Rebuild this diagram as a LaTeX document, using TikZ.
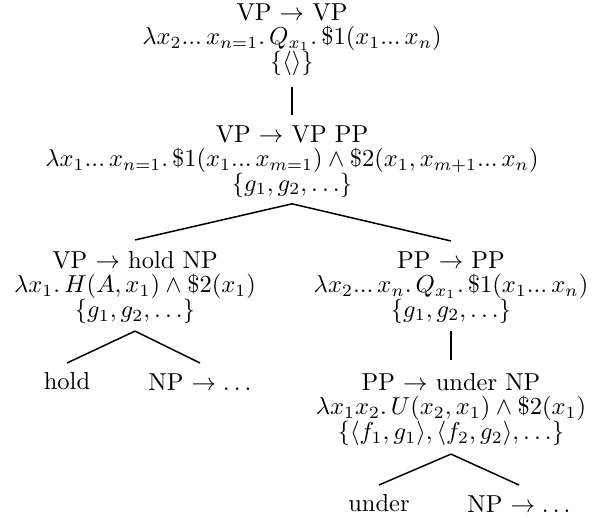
\documentclass[tikz,border=0pt]{standalone}
\usepackage{amsmath}
\usetikzlibrary{positioning}
\newcommand{\tdots}{...\,}
\begin{document}
\begin{tikzpicture}[x=1pt, y=-1pt,
        rule/.style={align=center, inner sep=0pt, anchor=north, scale=2.45, transform shape,
                     font={\fontsize{10}{10}\selectfont\lineskiplimit=-5pt}},
        leaf/.style={inner sep=0pt, anchor=north, scale=2.45, transform shape,
                     font={\fontsize{10}{10}\selectfont}},
        branch/.style={line width=1.5pt}]

        \useasboundingbox (0,0) rectangle (595,518);

        \node[rule] (root)  at (292,3)   {VP $\rightarrow$ VP\\
            $\lambda x_2\tdots x_{n=1}.\,Q_{x_1}.\,\$1(x_1\tdots x_n)$\\
            $\{\langle\rangle\}$};
        \node[rule] (vppp)  at (292,125) {VP $\rightarrow$ VP PP\\
            $\lambda x_1\tdots x_{n=1}.\,\$1(x_1\tdots x_{m=1})\wedge\$2(x_1,x_{m+1}\tdots x_n)$\\
            $\{g_1,g_2,\ldots\}$};
        \node[rule] (hold)  at (135,251) {VP $\rightarrow$ hold NP\\
            $\lambda x_1.\,H(A,x_1)\wedge\$2(x_1)$\\
            $\{g_1,g_2,\ldots\}$};
        \node[rule] (pp)    at (451,251) {PP $\rightarrow$ PP\\
            $\lambda x_2\tdots x_n.\,Q_{x_1}.\,\$1(x_1\tdots x_n)$\\
            $\{g_1,g_2,\ldots\}$};
        \node[rule] (under) at (451,373) {PP $\rightarrow$ under NP\\
            $\lambda x_1x_2.\,U(x_2,x_1)\wedge\$2(x_1)$\\
            $\{\langle f_1,g_1\rangle,\langle f_2,g_2\rangle,\ldots\}$};

        \node[leaf] (holdw)  at (67,372)  {hold};
        \node[leaf] (np1)    at (200,373) {NP $\rightarrow\ldots$};
        \node[leaf] (underw) at (379,494) {under};
        \node[leaf] (np2)    at (519,495) {NP $\rightarrow\ldots$};

        \draw[branch] ([yshift=-11pt]root.south) -- ([yshift=10pt]vppp.north);
        \draw[branch] ([yshift=-6pt]vppp.south) -- ([yshift=11pt]hold.north);
        \draw[branch] ([yshift=-6pt]vppp.south) -- ([yshift=10pt]pp.north);
        \draw[branch] ([yshift=-7pt]hold.south) -- ([yshift=9pt]holdw.north);
        \draw[branch] ([yshift=-7pt]hold.south) -- ([yshift=10pt]np1.north);
        \draw[branch] ([yshift=-7pt]pp.south) -- ([yshift=13pt]under.north);
        \draw[branch] ([yshift=-8pt]under.south) -- ([yshift=9pt]underw.north);
        \draw[branch] ([yshift=-8pt]under.south) -- ([yshift=10pt]np2.north);
\end{tikzpicture}
\end{document}
